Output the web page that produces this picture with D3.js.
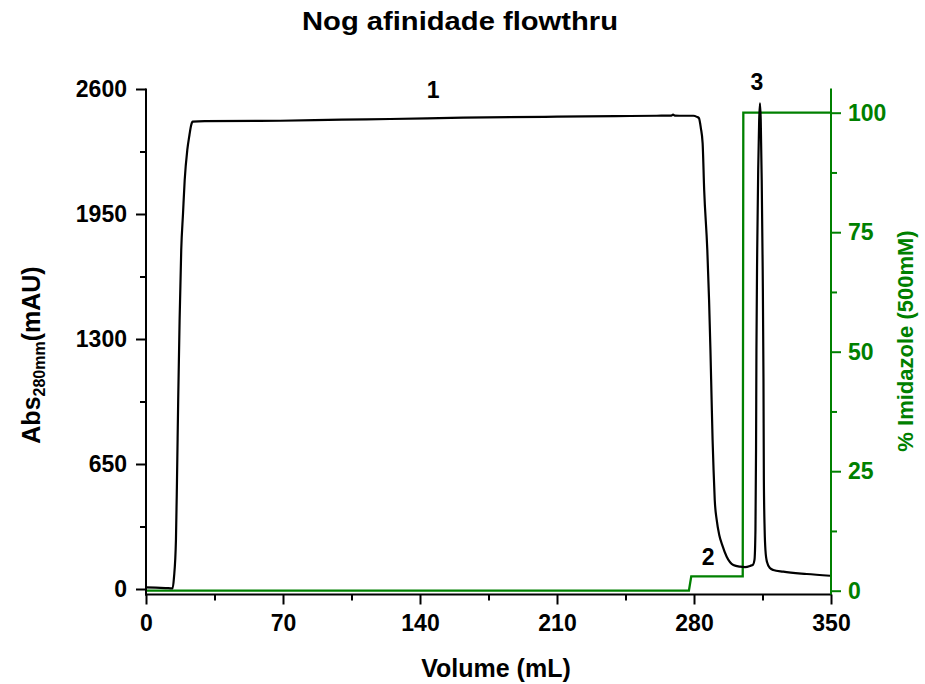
<!DOCTYPE html>
<html><head><meta charset="utf-8">
<script src="https://cdn.jsdelivr.net/npm/d3@7"></script>
<style>body{margin:0;background:#fff} svg text{font-family:"Liberation Sans",Arial,sans-serif;font-weight:bold}</style>
</head><body><svg id="c" width="925" height="684"></svg>
<script>
// ---- data ----
const volume = [0, 5, 10, 13.6, 14.3, 15.3, 15.84, 16.45, 17.17, 18.0, 18.9, 19.77, 21.1, 22.2, 23.1, 23.86,
  30, 68.5, 100, 124.7, 162, 210, 240, 261, 268.4, 269.3, 270.2, 275, 279.7,
  281.5, 282.5, 283.5, 284.4, 285.2, 286.8, 287.7, 288.4, 289.0, 289.5, 290.0, 290.6, 291.6, 292.9, 294.4, 296.7, 300.1, 303.5, 306.1, 308.6, 310.2,
  310.9, 311.4, 311.7, 311.9, 312.3, 312.8, 313.3, 313.7, 314.1, 314.6, 315.1, 315.5, 315.7, 316.1, 316.5, 317.3, 318.8, 320.5, 325.6, 337.6, 349.5];
const absorbance = [8, 7, 5, 3, 60, 255, 567, 983, 1399, 1763, 1950, 2127, 2283, 2361, 2413, 2430,
  2433, 2435, 2441, 2444, 2451, 2456, 2459, 2461, 2462, 2467, 2462, 2461, 2461,
  2455, 2449, 2397, 2319, 2075, 1763, 1503, 1243, 983, 775, 619, 463, 359, 281, 229, 168, 125, 116, 114, 120, 127,
  151, 307, 723, 1243, 1763, 2179, 2439, 2526, 2439, 2127, 1659, 1087, 567, 307, 203, 140, 109, 99, 90, 78, 69];
const imidVolume = [0, 277.4, 278.6, 304.9, 305.2, 350];
const imidPercent = [0, 0, 3, 3, 100, 100];
const xTicks = [0, 70, 140, 210, 280, 350];
const xMinor = [35, 105, 175, 245, 315];
const absTicks = [0, 650, 1300, 1950, 2600];
const absMinor = [325, 975, 1625, 2275];
const pctTicks = [0, 25, 50, 75, 100];
const pctMinor = [12.5, 37.5, 62.5, 87.5];
const peakNames = ["1", "2", "3"];
const peakVolume = [146.7, 287.2, 312.1];
const peakAbs = [2553, 125, 2595];

const GREEN = "#008000";
const svg = d3.select("#c");
const x = d3.scaleLinear().domain([0, 350]).range([146, 831]);
const y = d3.scaleLinear().domain([0, 2600]).range([589, 89]);
const yR = d3.scaleLinear().domain([0, 100]).range([590.7, 112.7]);
const axisY = 594.5;

// title
svg.append("text").attr("x", 460).attr("y", 30).attr("text-anchor", "middle")
  .attr("font-size", 26).attr("textLength", 316).attr("lengthAdjust", "spacingAndGlyphs")
  .text("Nog afinidade flowthru");

// curves
const absData = volume.map((v, i) => [v, absorbance[i]]);
const imidData = imidVolume.map((v, i) => [v, imidPercent[i]]);
svg.append("path").datum(imidData)
  .attr("fill", "none").attr("stroke", GREEN).attr("stroke-width", 2.3)
  .attr("d", d3.line().x(d => x(d[0])).y(d => yR(d[1])));
svg.append("path").datum(absData)
  .attr("fill", "none").attr("stroke", "#000").attr("stroke-width", 2.2).attr("stroke-linejoin", "round")
  .attr("d", d3.line().x(d => x(d[0])).y(d => y(d[1])).curve(d3.curveMonotoneX));

function styleAxis(g, color, fs) {
  g.select(".domain").remove();
  g.selectAll("line").attr("stroke", color).attr("stroke-width", 2);
  g.selectAll("text").attr("fill", color).attr("font-size", fs)
    .attr("font-family", '"Liberation Sans",Arial,sans-serif').attr("font-weight", "bold");
}

// x axis
svg.append("g").attr("transform", `translate(0,${axisY})`)
  .call(d3.axisBottom(x).tickValues(xTicks).tickSize(10).tickPadding(10).tickFormat(d3.format("d")))
  .call(g => styleAxis(g, "#000", 23));
svg.append("g").attr("transform", `translate(0,${axisY})`)
  .call(d3.axisBottom(x).tickValues(xMinor).tickSize(6).tickFormat(""))
  .call(g => styleAxis(g, "#000", 23));
svg.append("line").attr("x1", 145).attr("x2", 832).attr("y1", axisY).attr("y2", axisY)
  .attr("stroke", "#000").attr("stroke-width", 2);

// left axis
svg.append("g").attr("transform", "translate(146,0)")
  .call(d3.axisLeft(y).tickValues(absTicks).tickSize(10).tickPadding(9).tickFormat(d3.format("d")))
  .call(g => styleAxis(g, "#000", 23));
svg.append("g").attr("transform", "translate(146,0)")
  .call(d3.axisLeft(y).tickValues(absMinor).tickSize(6).tickFormat(""))
  .call(g => styleAxis(g, "#000", 23));
svg.append("line").attr("x1", 146).attr("x2", 146).attr("y1", 88.5).attr("y2", axisY + 1)
  .attr("stroke", "#000").attr("stroke-width", 2);

// right axis
svg.append("g").attr("transform", "translate(831,0)")
  .call(d3.axisRight(yR).tickValues(pctTicks).tickSize(10).tickPadding(7).tickFormat(d3.format("d")))
  .call(g => styleAxis(g, GREEN, 23));
svg.append("g").attr("transform", "translate(831,0)")
  .call(d3.axisRight(yR).tickValues(pctMinor).tickSize(6).tickFormat(""))
  .call(g => styleAxis(g, GREEN, 23));
svg.append("line").attr("x1", 831).attr("x2", 831).attr("y1", 88.5).attr("y2", axisY)
  .attr("stroke", GREEN).attr("stroke-width", 2);

// axis titles
svg.append("text").attr("x", 496).attr("y", 677).attr("text-anchor", "middle")
  .attr("font-size", 25).text("Volume (mL)");

const lt = svg.append("text").attr("transform", "translate(40,355) rotate(-90)")
  .attr("text-anchor", "middle").attr("font-size", 25);
lt.append("tspan").text("Abs");
lt.append("tspan").attr("font-size", 16).attr("dy", 5).text("280mm");
lt.append("tspan").attr("dy", -5).text("(mAU)");

svg.append("text").attr("transform", "translate(913,341) rotate(-90)")
  .attr("text-anchor", "middle").attr("font-size", 22).attr("fill", GREEN)
  .text("% Imidazole (500mM)");

// peak labels
svg.selectAll("text.peak").data(peakNames).enter().append("text").attr("class", "peak")
  .attr("x", (d, i) => x(peakVolume[i])).attr("y", (d, i) => y(peakAbs[i]))
  .attr("text-anchor", "middle").attr("font-size", 23).text(d => d);
</script></body></html>
